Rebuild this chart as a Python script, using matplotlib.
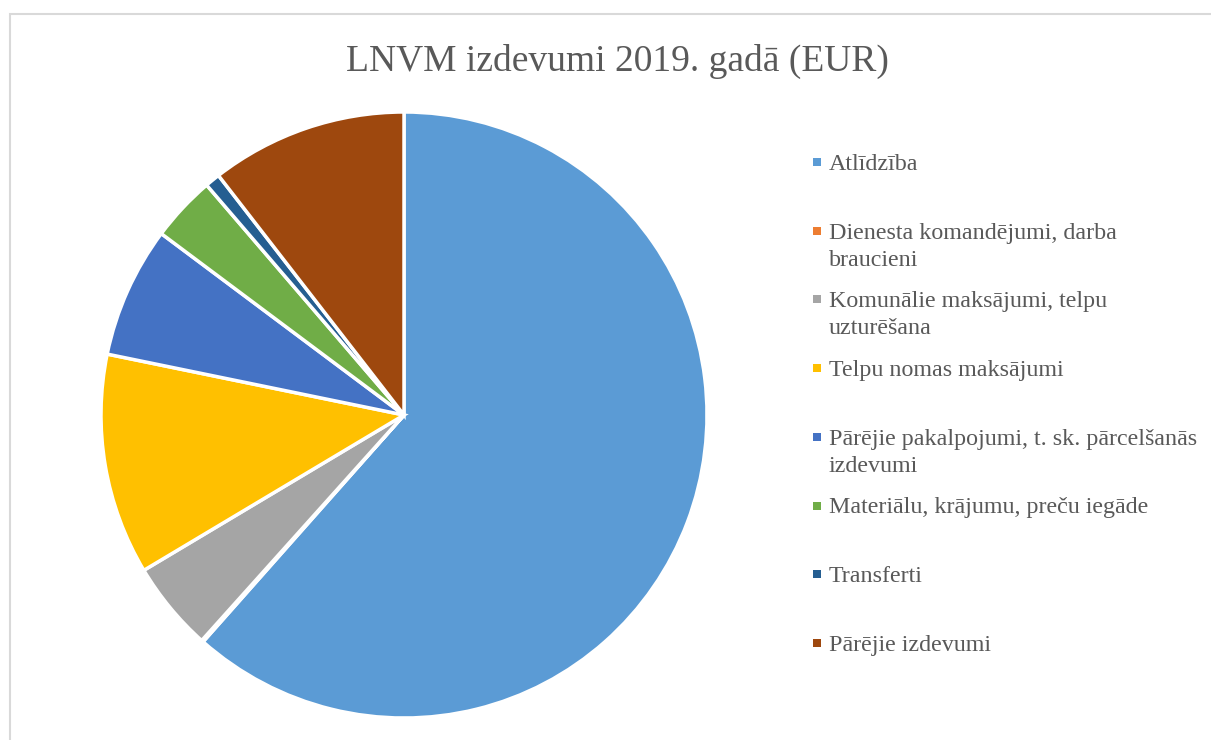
import matplotlib.pyplot as plt
from matplotlib.patches import Rectangle

# ------------------------------------------------------------------------------
categories = ['Atlīdzība',
              'Dienesta komandējumi, darba\nbraucieni',
              'Komunālie maksājumi, telpu\nuzturēšana',
              'Telpu nomas maksājumi',
              'Pārējie pakalpojumi, t. sk. pārcelšanās\nizdevumi',
              'Materiālu, krājumu, preču iegāde',
              'Transferti',
              'Pārējie izdevumi']
values = [61.6, 0.1, 4.8, 11.8, 7.0, 3.5, 0.8, 10.5]  # share in %
colors = ['#5B9BD5', '#ED7D31', '#A5A5A5', '#FFC000',
          '#4472C4', '#70AD47', '#255E91', '#9E480E']
title = 'LNVM izdevumi 2019. gadā (EUR)'

plt.rcParams['font.family'] = ['Liberation Serif', 'DejaVu Serif']
text_color = '#595959'

W, H = 1211, 740
fig = plt.figure(figsize=(W / 100, H / 100), dpi=100)

# chart border (light gray frame)
fig.patches.append(Rectangle((10 / W, -0.1), 1.2, (H - 14) / H + 0.1,
                             transform=fig.transFigure, fill=False,
                             edgecolor='#D9D9D9', linewidth=1.5))

# pie axes: centre (404, 415) px, radius 303 px
cx, cy, r = 404, 415, 303
ax = fig.add_axes([(cx - r) / W, (H - cy - r) / H, 2 * r / W, 2 * r / H])
ax.pie(values, colors=colors, startangle=90, counterclock=False, radius=1,
       wedgeprops=dict(edgecolor='white', linewidth=2.5))
ax.set_xlim(-1, 1)
ax.set_ylim(-1, 1)
ax.set_aspect('auto')
ax.axis('off')

fig.text(617 / W, 1 - 61 / H, title, ha='center', va='center',
         fontsize=27, color=text_color)

# legend, drawn by hand (one text per line)
slot0, step, line_h = 162, 68.7, 27
for i, (lab, col) in enumerate(zip(categories, colors)):
    y = slot0 + i * step
    fig.patches.append(Rectangle((813 / W, 1 - (y + 4) / H), 8 / W, 8 / H,
                                 transform=fig.transFigure, facecolor=col,
                                 edgecolor='none'))
    for k, line in enumerate(lab.split('\n')):
        fig.text(829 / W, 1 - (y + 8 + k * line_h) / H, line, ha='left',
                 va='baseline', fontsize=17.3, color=text_color)

fig.savefig('out.png', dpi=100)
